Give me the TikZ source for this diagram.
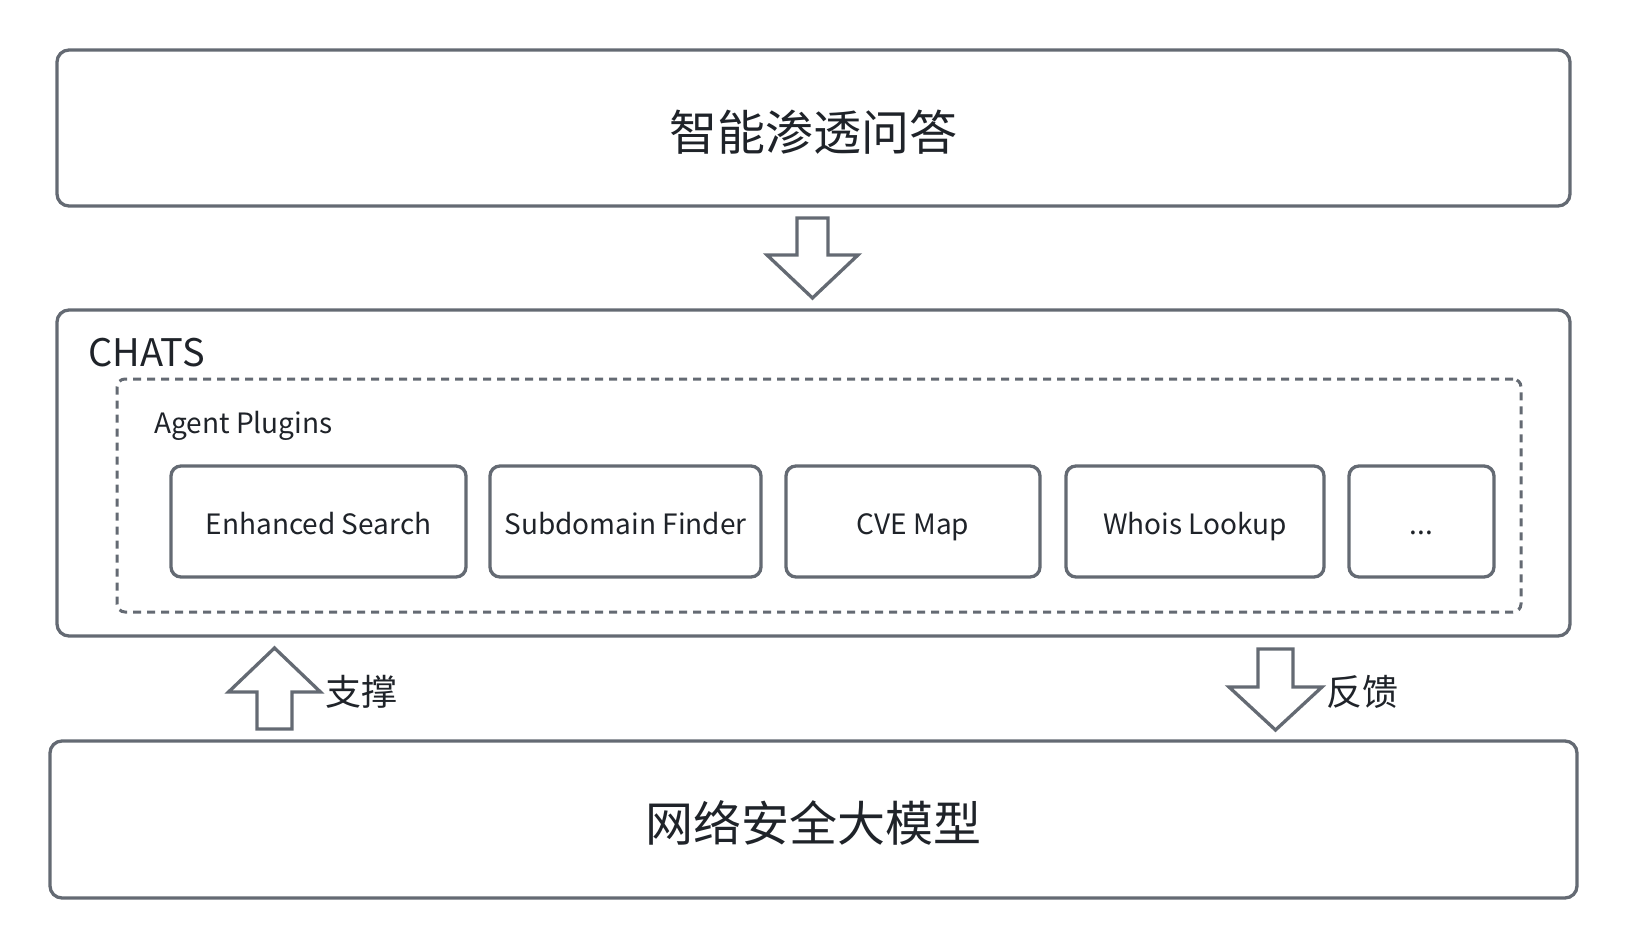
\documentclass[tikz,border=0pt]{standalone}
\usepackage{fontspec}
\setmainfont{Noto Sans CJK SC}
\definecolor{linegray}{HTML}{646A73}
\definecolor{textdark}{HTML}{1F2329}
\newcommand{\fsz}[1]{\fontsize{#1pt}{#1pt}\selectfont}
% block arrow: centre x, shaft end y, shoulder y, tip y, shaft half width, head half width
\newcommand{\BlockArrow}[6]{%
  \draw[blockarrow] (#1-#5,#2) -- (#1+#5,#2) -- (#1+#5,#3) -- (#1+#6,#3)
    -- (#1,#4) -- (#1-#6,#3) -- (#1-#5,#3) -- cycle;}
\begin{document}
\begin{tikzpicture}[x=1pt,y=-1pt,
  bigbox/.style={draw=linegray, line width=3.3pt, rounded corners=12pt, fill=white,
    inner sep=0pt},
  bigtext/.style={text=textdark, font=\fsz{48}, inner sep=0pt},
  plugbox/.style={draw=linegray, line width=3.3pt, rounded corners=10pt,
    minimum height=111pt, text=textdark, inner sep=0pt, font=\fsz{28},
    text height=25pt, text depth=0pt},
  dashbox/.style={draw=linegray, line width=3pt, rounded corners=8pt,
    dash pattern=on 8pt off 6pt},
  blockarrow/.style={draw=linegray, line width=3.3pt, fill=white, line join=miter},
  sidelabel/.style={text=textdark, font=\fsz{36}, anchor=west, inner sep=0pt}]
\useasboundingbox (0,0) rectangle (1628,950);

% top layer
\node[bigbox, minimum width=1513pt, minimum height=156pt] (qa) at (813.5,128) {};
\node[bigtext] (qatext) at (813.5,132) {智能渗透问答};

% CHATS layer
\node[bigbox, minimum width=1513pt, minimum height=326pt] (chats) at (813.5,473) {};
\node[text=textdark, font=\fsz{38}, anchor=base west, inner sep=0pt]
  (chatslabel) at (88,366) {CHATS};
\node[dashbox, minimum width=1404pt, minimum height=233pt] (plugins) at (819,495.5) {};
\node[text=textdark, font=\fsz{28}, anchor=base west, inner sep=0pt]
  (pluginslabel) at (154,433) {Agent Plugins};

\node[plugbox, minimum width=295pt] (search) at (318.5,521.5) {Enhanced Search};
\node[plugbox, minimum width=271pt] (subdomain) at (625.5,521.5) {Subdomain Finder};
\node[plugbox, minimum width=254pt] (cve) at (913,521.5) {CVE Map};
\node[plugbox, minimum width=258pt] (whois) at (1195,521.5) {Whois Lookup};
\node[plugbox, minimum width=145pt] (more) at (1421.5,521.5) {...};

% model layer
\node[bigbox, minimum width=1527pt, minimum height=157pt] (model) at (813.5,819.5) {};
\node[bigtext] (modeltext) at (813.5,823) {网络安全大模型};

% arrows between layers
\BlockArrow{812.5}{218}{255}{298}{15.5}{45.5}
\BlockArrow{274.5}{729}{692}{648}{17.5}{46}
\BlockArrow{1275.5}{649}{687}{730}{17.5}{46.5}

\node[sidelabel] (support) at (325,692) {支撑};
\node[sidelabel] (feedback) at (1326,692) {反馈};
\end{tikzpicture}
\end{document}
